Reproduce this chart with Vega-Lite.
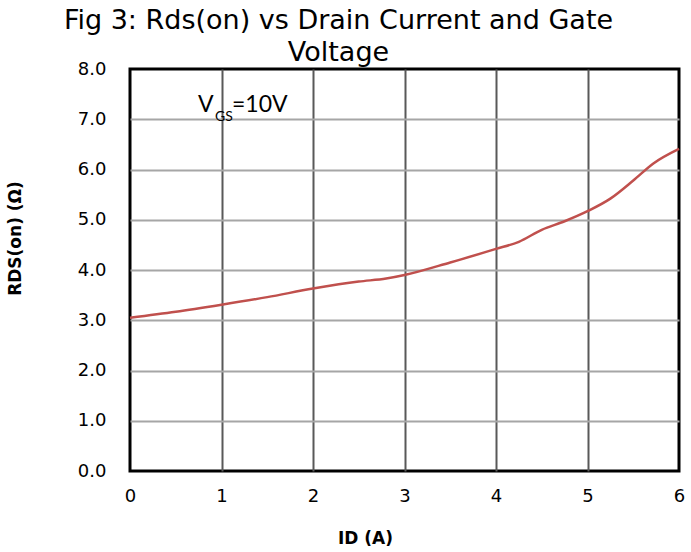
{
  "$schema": "https://vega.github.io/schema/vega-lite/v6.json",
  "autosize": "none",
  "width": 549,
  "height": 402,
  "padding": {"left": 130, "top": 69, "right": 12, "bottom": 81},
  "background": "white",
  "title": {
    "text": ["Fig 3: Rds(on) vs Drain Current and Gate", "Voltage"],
    "font": "DejaVu Sans",
    "fontSize": 27,
    "fontWeight": "normal",
    "color": "#000000",
    "anchor": "middle",
    "frame": "group",
    "dx": -66,
    "lineHeight": 32,
    "offset": -7
  },
  "config": {
    "view": {"stroke": "black", "strokeWidth": 3},
    "axis": {
      "labelFont": "DejaVu Sans",
      "labelFontSize": 18,
      "labelColor": "#000000",
      "titleFont": "DejaVu Sans",
      "titleFontSize": 17,
      "titleFontWeight": "bold",
      "titleColor": "#000000",
      "ticks": false,
      "domain": false,
      "labelFlush": false
    }
  },
  "data": {
    "values": [
      {"id": 0.0, "r": 3.05},
      {"id": 0.5, "r": 3.17},
      {"id": 1.0, "r": 3.31},
      {"id": 1.5, "r": 3.46},
      {"id": 2.0, "r": 3.63},
      {"id": 2.5, "r": 3.77},
      {"id": 2.8, "r": 3.83},
      {"id": 3.0, "r": 3.9},
      {"id": 3.5, "r": 4.15},
      {"id": 4.0, "r": 4.42},
      {"id": 4.25, "r": 4.56},
      {"id": 4.5, "r": 4.8},
      {"id": 4.75, "r": 4.97},
      {"id": 5.0, "r": 5.17},
      {"id": 5.25, "r": 5.42},
      {"id": 5.5, "r": 5.78},
      {"id": 5.72, "r": 6.12},
      {"id": 6.0, "r": 6.41}
    ]
  },
  "layer": [
    {
      "mark": {"type": "line", "color": "#C0504D", "strokeWidth": 2.5, "interpolate": "monotone"},
      "encoding": {
        "x": {
          "field": "id", "type": "quantitative",
          "scale": {"domain": [0, 6], "nice": false},
          "axis": {
            "title": "ID (A)", "values": [0, 1, 2, 3, 4, 5, 6], "format": "d",
            "labelPadding": 16, "titlePadding": 25, "titleX": 235,
            "grid": true, "gridColor": "#595959", "gridWidth": 2,
            "gridOpacity": {"condition": {"test": "datum.value <= 0 || datum.value >= 6", "value": 0}, "value": 1}
          }
        },
        "y": {
          "field": "r", "type": "quantitative",
          "scale": {"domain": [0, 8], "nice": false},
          "axis": {
            "title": "RDS(on) (Ω)", "values": [0, 1, 2, 3, 4, 5, 6, 7, 8], "format": ".1f",
            "labelPadding": 24, "titlePadding": 53, "titleY": 169,
            "grid": true, "gridColor": "#a6a6a6", "gridWidth": 2,
            "gridOpacity": {"condition": {"test": "datum.value <= 0 || datum.value >= 8", "value": 0}, "value": 1}
          }
        }
      }
    },
    {
      "data": {"values": [{"id": 0.743, "r": 7.14, "t": "V"}]},
      "mark": {"type": "text", "font": "Lato", "fontSize": 23, "align": "left", "baseline": "alphabetic", "color": "#000000"},
      "encoding": {
        "x": {"field": "id", "type": "quantitative"},
        "y": {"field": "r", "type": "quantitative"},
        "text": {"field": "t"}
      }
    },
    {
      "data": {"values": [{"id": 0.743, "r": 7.14, "t": "GS"}]},
      "mark": {"type": "text", "font": "Lato", "fontSize": 14, "align": "left", "baseline": "alphabetic", "dx": 17, "dy": 9, "color": "#000000"},
      "encoding": {
        "x": {"field": "id", "type": "quantitative"},
        "y": {"field": "r", "type": "quantitative"},
        "text": {"field": "t"}
      }
    },
    {
      "data": {"values": [{"id": 0.743, "r": 7.14, "t": "=10V"}]},
      "mark": {"type": "text", "font": "Lato", "fontSize": 23, "align": "left", "baseline": "alphabetic", "dx": 34, "color": "#000000"},
      "encoding": {
        "x": {"field": "id", "type": "quantitative"},
        "y": {"field": "r", "type": "quantitative"},
        "text": {"field": "t"}
      }
    }
  ]
}
